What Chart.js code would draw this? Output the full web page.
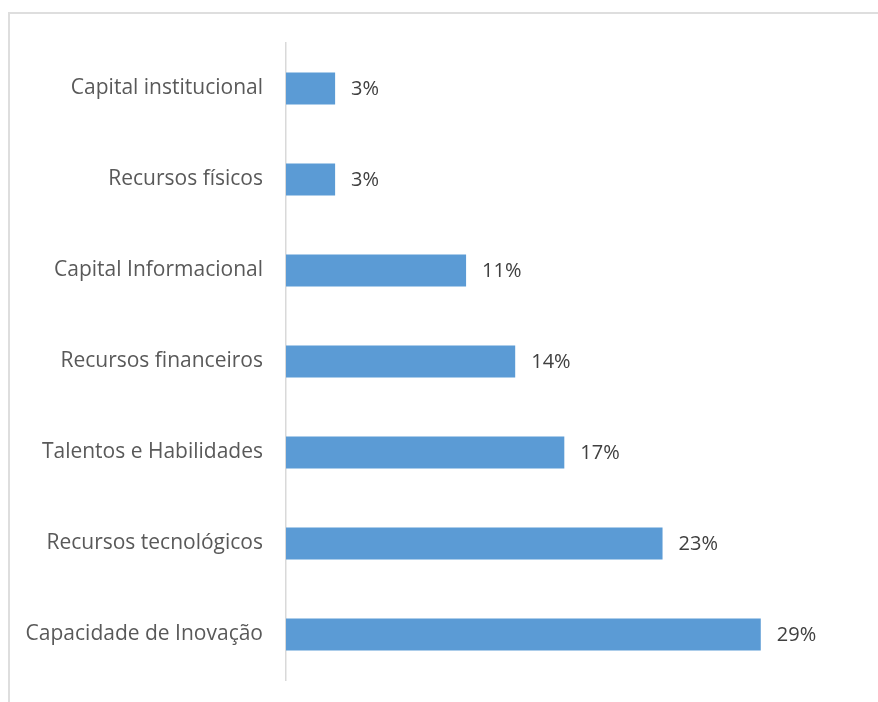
<!DOCTYPE html>
<html>
<head>
<meta charset="utf-8">
<script src="https://cdn.jsdelivr.net/npm/chart.js@4.4.1/dist/chart.umd.min.js"></script>
<style>
  html, body { margin: 0; padding: 0; background: #fff; }
  #wrap { position: relative; width: 878px; height: 702px; overflow: hidden; }
  #frame { position: absolute; left: 8px; top: 12px; width: 900px; height: 720px;
           border: 2px solid #dedede; box-sizing: border-box; }
  #chart { position: absolute; left: 0; top: 0; }
</style>
</head>
<body>
<div id="wrap">
  <div id="frame"></div>
  <canvas id="chart" width="878" height="702"></canvas>
</div>
<script>
// Share of each resource category (%)
const categories = [
  'Capital institucional',
  'Recursos físicos',
  'Capital Informacional',
  'Recursos financeiros',
  'Talentos e Habilidades',
  'Recursos tecnológicos',
  'Capacidade de Inovação'
];
const shares = [3, 3, 11, 14, 17, 23, 29];

const FONT = '"Open Sans", "Noto Sans", sans-serif';

// Draws the "NN%" text just past the end of each bar
const valueLabels = {
  id: 'valueLabels',
  afterDatasetsDraw(chart) {
    const ctx = chart.ctx;
    const meta = chart.getDatasetMeta(0);
    ctx.save();
    ctx.font = '20px ' + FONT;
    ctx.fillStyle = '#404040';
    ctx.textAlign = 'left';
    ctx.textBaseline = 'middle';
    meta.data.forEach((bar, i) => {
      ctx.fillText(shares[i] + '%', bar.x + 16, bar.y + 1);
    });
    ctx.restore();
  }
};

const ctx = document.getElementById('chart').getContext('2d');
new Chart(ctx, {
  type: 'bar',
  data: {
    labels: categories,
    datasets: [{
      data: shares,
      backgroundColor: '#5b9bd5',
      borderWidth: 0,
      barPercentage: 0.7,
      categoryPercentage: 0.5
    }]
  },
  options: {
    indexAxis: 'y',
    responsive: false,
    animation: false,
    layout: { padding: { top: 43, bottom: 22, right: 19, left: 0 } },
    plugins: {
      legend: { display: false },
      tooltip: { enabled: false }
    },
    scales: {
      x: {
        display: false,
        min: 0,
        max: 35
      },
      y: {
        // fixed label column; no extra room for the first/last label
        afterFit(scale) {
          scale.width = 286;
          scale.paddingTop = 0;
          scale.paddingBottom = 0;
        },
        grid: { display: false, drawTicks: false },
        border: { display: true, color: '#d9d9d9', width: 1.5 },
        ticks: {
          padding: 23,
          color: '#595959',
          font: { family: FONT, size: 21 }
        }
      }
    }
  },
  plugins: [valueLabels]
});
</script>
</body>
</html>
